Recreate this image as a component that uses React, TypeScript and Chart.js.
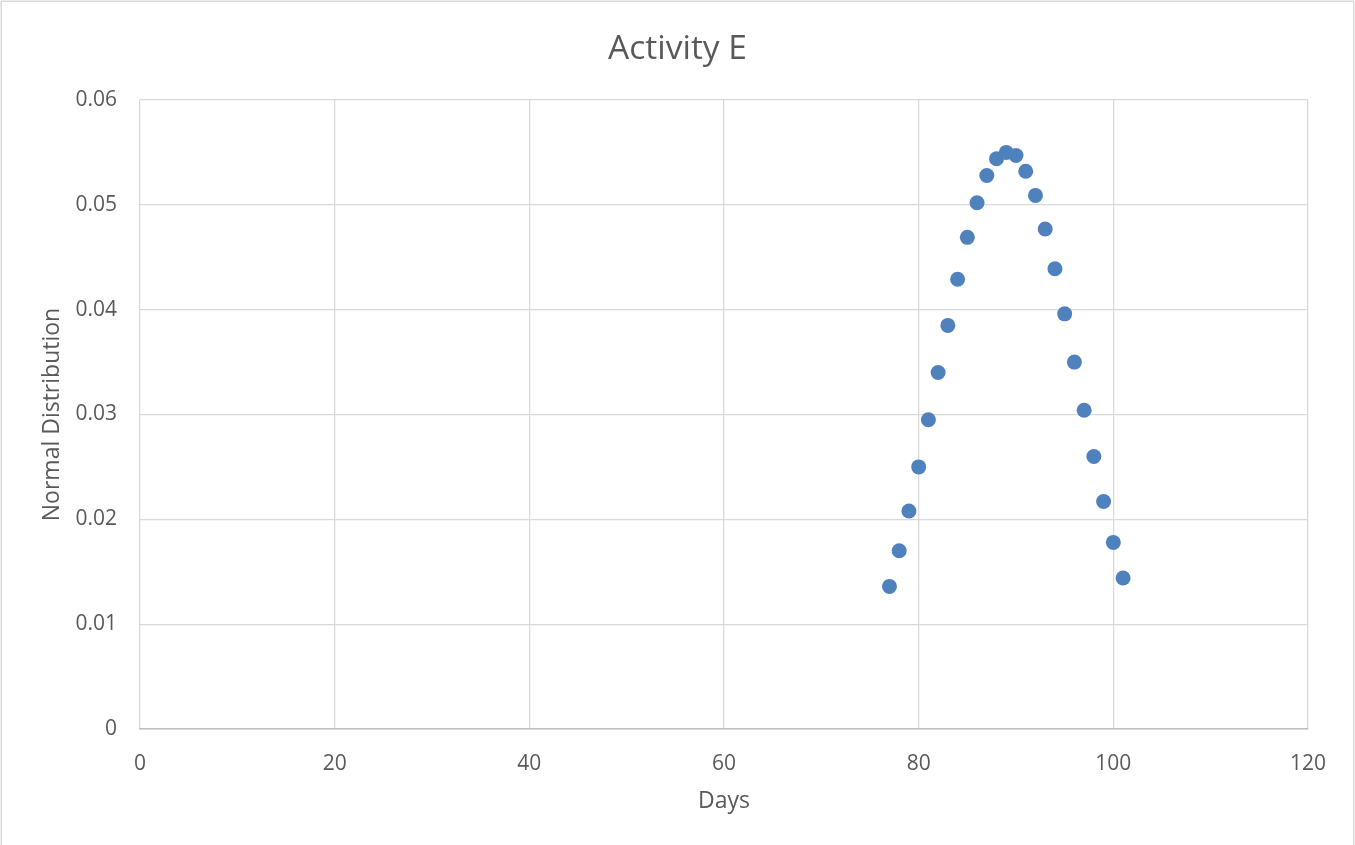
import React, { useEffect, useRef } from "react";
import { Chart, registerables } from "chart.js";

Chart.register(...registerables);

// Days and normal distribution values for Activity E
const days: number[] = [
  77, 78, 79, 80, 81, 82, 83, 84, 85, 86, 87, 88, 89,
  90, 91, 92, 93, 94, 95, 96, 97, 98, 99, 100, 101,
];
const normalValues: number[] = [
  0.0136, 0.0170, 0.0208, 0.0250, 0.0295, 0.0340, 0.0385, 0.0429, 0.0469,
  0.0502, 0.0528, 0.0544, 0.0550, 0.0547, 0.0532, 0.0509, 0.0477, 0.0439,
  0.0396, 0.0350, 0.0304, 0.0260, 0.0217, 0.0178, 0.0144,
];

const chartTitle = "Activity E";
const xAxisTitle = "Days";
const yAxisTitle = "Normal Distribution";

const TEXT = "#595959";
const GRID = "#d9d9d9";
const FONT = "'Open Sans', 'Liberation Sans', sans-serif";

// White background and a light frame around the whole chart
const framePlugin = {
  id: "frame",
  beforeDraw(chart: Chart) {
    const ctx = chart.ctx;
    ctx.save();
    ctx.fillStyle = "#ffffff";
    ctx.fillRect(0, 0, chart.width, chart.height);
    ctx.strokeStyle = GRID;
    ctx.lineWidth = 1.5;
    ctx.strokeRect(1.25, 1.25, chart.width - 2.5, chart.height + 10);
    ctx.restore();
  },
};

export default function App() {
  const canvasRef = useRef<HTMLCanvasElement | null>(null);

  useEffect(() => {
    document.body.style.margin = "0";
    const canvas = canvasRef.current;
    if (!canvas) return;
    const chart = new Chart(canvas, {
      type: "scatter",
      data: {
        datasets: [
          {
            label: yAxisTitle,
            data: days.map((d, i) => ({ x: d, y: normalValues[i] })),
            backgroundColor: "#4F81BD",
            borderColor: "#4F81BD",
            pointRadius: 7.5,
            pointHoverRadius: 7.5,
            borderWidth: 0,
          },
        ],
      },
      options: {
        responsive: false,
        animation: false,
        events: [],
        layout: { padding: 0 },
        plugins: {
          legend: { display: false },
          tooltip: { enabled: false },
          title: {
            display: true,
            text: chartTitle,
            color: TEXT,
            font: { family: FONT, size: 33.5, weight: "normal", lineHeight: 1.2 },
            padding: { top: 29, bottom: 30.8 },
          },
        },
        scales: {
          x: {
            type: "linear",
            min: 0,
            max: 120,
            afterFit(scale: any) {
              scale.height = 116;
            },
            ticks: {
              stepSize: 20,
              color: TEXT,
              padding: 22,
              maxRotation: 0,
              font: { family: FONT, size: 21 },
            },
            grid: { color: GRID, lineWidth: 1.3, drawTicks: false },
            border: { color: "#bfbfbf", width: 1.5 },
            title: {
              display: true,
              text: xAxisTitle,
              color: TEXT,
              font: { family: FONT, size: 23 },
              padding: { top: 30, bottom: 30 },
            },
          },
          y: {
            type: "linear",
            min: 0,
            max: 0.06,
            afterFit(scale: any) {
              scale.width = 140;
            },
            ticks: {
              stepSize: 0.01,
              color: TEXT,
              padding: 23,
              font: { family: FONT, size: 21 },
              callback: (v: any) => (Number(v) === 0 ? "0" : Number(v).toFixed(2)),
            },
            grid: { color: GRID, lineWidth: 1.3, drawTicks: false },
            border: { display: false },
            title: {
              display: true,
              text: yAxisTitle,
              color: TEXT,
              font: { family: FONT, size: 23 },
              padding: { top: 39, bottom: 39 },
            },
          },
          // empty right-hand margin so the title stays centred on the canvas
          yRight: {
            type: "linear",
            position: "right",
            display: true,
            min: 0,
            max: 0.06,
            afterFit(scale: any) {
              scale.width = 47;
            },
            ticks: { display: false },
            grid: { display: false, drawTicks: false },
            border: { display: false },
          },
        },
      },
      plugins: [framePlugin],
    });
    return () => chart.destroy();
  }, []);

  return (
    <div style={{ position: "fixed", left: 0, top: 0, width: 1355, height: 845, background: "#fff" }}>
      <canvas ref={canvasRef} width={1355} height={845} />
    </div>
  );
}
